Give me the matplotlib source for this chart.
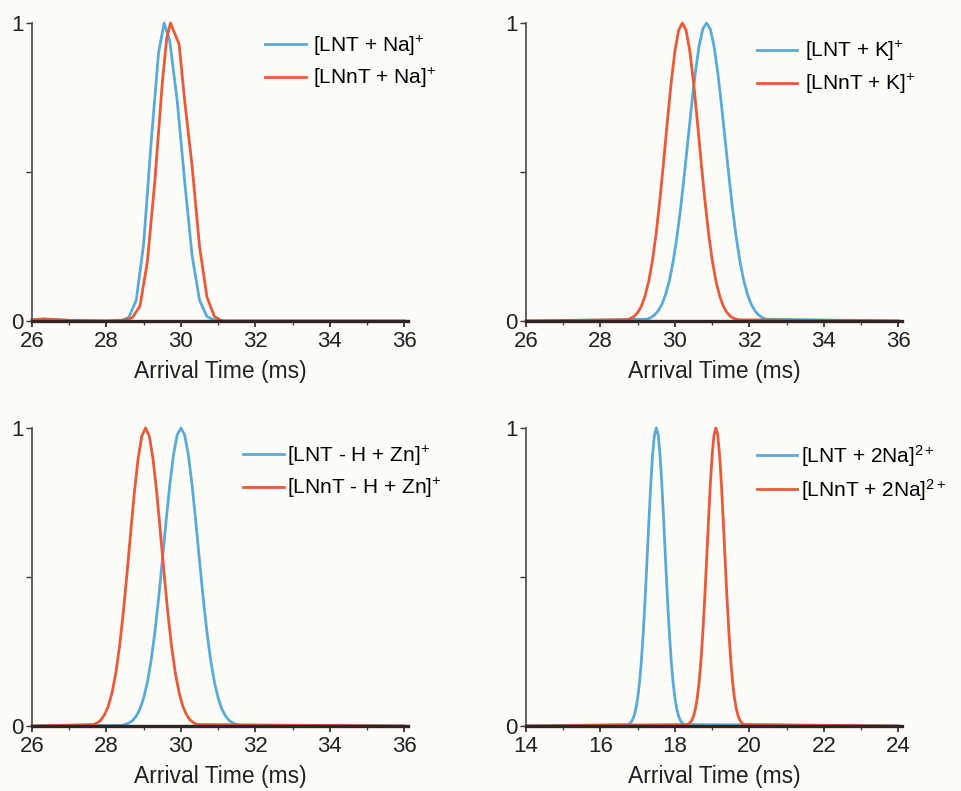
import matplotlib
matplotlib.use("Agg")
import matplotlib.pyplot as plt
from matplotlib.ticker import MultipleLocator

plt.rcParams["font.family"] = ["Liberation Sans", "DejaVu Sans"]
plt.rcParams["mathtext.fontset"] = "custom"
plt.rcParams["mathtext.rm"] = "Liberation Sans"
plt.rcParams["mathtext.it"] = "Liberation Sans"

# --- data (arrival time in ms, normalised intensity) ---
# panel A: Na+ adducts
na_time_lnt = [26.0, 26.3, 26.6, 27.0, 27.5, 28.0, 28.4, 28.6, 28.8, 29.0, 29.2,
               29.4, 29.55, 29.7, 29.9, 30.1, 30.3, 30.5, 30.7, 30.9, 31.2, 36.0]
na_int_lnt = [0.004, 0.006, 0.005, 0.002, 0.001, 0.0, 0.002, 0.012, 0.07, 0.26, 0.6,
              0.9, 1.0, 0.94, 0.74, 0.47, 0.22, 0.07, 0.015, 0.003, 0.0, 0.0]
na_time_lnnt = [26.0, 26.3, 26.6, 27.0, 27.5, 28.0, 28.5, 28.7, 28.9, 29.1, 29.3, 29.5,
                29.62, 29.72, 29.85, 29.95, 30.1, 30.3, 30.5, 30.7, 30.9, 31.1, 36.0]
na_int_lnnt = [0.004, 0.007, 0.005, 0.002, 0.001, 0.0, 0.003, 0.012, 0.05, 0.2, 0.47, 0.8,
               0.95, 1.0, 0.96, 0.93, 0.74, 0.52, 0.25, 0.08, 0.015, 0.0, 0.0]

# panel B: K+ adducts
k_time_lnt = [26.0, 29.25, 29.35, 29.45, 29.55, 29.65, 29.75, 29.85, 29.95, 30.05, 30.15,
              30.25, 30.35, 30.45, 30.55, 30.65, 30.75, 30.85, 30.95, 31.05, 31.15,
              31.25, 31.35, 31.45, 31.55, 31.65, 31.75, 31.85, 31.95, 32.05, 32.15,
              32.25, 32.35, 32.45, 36.0]
k_int_lnt = [0.0, 0.006, 0.011, 0.020, 0.034, 0.056, 0.089, 0.135, 0.198, 0.278, 0.375,
             0.487, 0.607, 0.726, 0.835, 0.923, 0.980, 1.0, 0.980, 0.923, 0.835,
             0.726, 0.607, 0.487, 0.375, 0.278, 0.198, 0.135, 0.089, 0.056, 0.034,
             0.020, 0.011, 0.006, 0.0]
k_time_lnnt = [26.0, 28.7, 28.8, 28.9, 29.0, 29.1, 29.2, 29.3, 29.4, 29.5, 29.6, 29.7,
               29.8, 29.9, 30.0, 30.1, 30.2, 30.3, 30.4, 30.5, 30.6, 30.7, 30.8,
               30.9, 31.0, 31.1, 31.2, 31.3, 31.4, 31.5, 31.6, 31.7, 36.0]
k_int_lnnt = [0.0, 0.004, 0.008, 0.015, 0.028, 0.050, 0.085, 0.135, 0.206, 0.298, 0.411,
              0.539, 0.674, 0.801, 0.906, 0.976, 1.0, 0.976, 0.906, 0.801, 0.674,
              0.539, 0.411, 0.298, 0.206, 0.135, 0.085, 0.050, 0.028, 0.015, 0.008,
              0.004, 0.0]

# panel C: Zn adducts
zn_time_lnt = [26.0, 28.4, 28.5, 28.6, 28.7, 28.8, 28.9, 29.0, 29.1, 29.2, 29.3, 29.4,
               29.5, 29.6, 29.7, 29.8, 29.9, 30.0, 30.1, 30.2, 30.3, 30.4, 30.5,
               30.6, 30.7, 30.8, 30.9, 31.0, 31.1, 31.2, 31.3, 31.4, 31.5, 31.6, 36.0]
zn_int_lnt = [0.0, 0.002, 0.005, 0.010, 0.018, 0.033, 0.057, 0.094, 0.147, 0.220, 0.314,
              0.427, 0.554, 0.685, 0.808, 0.910, 0.977, 1.0, 0.977, 0.910, 0.808,
              0.685, 0.554, 0.427, 0.314, 0.220, 0.147, 0.094, 0.057, 0.033, 0.018,
              0.010, 0.005, 0.002, 0.0]
zn_time_lnnt = [26.0, 27.65, 27.75, 27.85, 27.95, 28.05, 28.15, 28.25, 28.35, 28.45,
                28.55, 28.65, 28.75, 28.85, 28.95, 29.05, 29.15, 29.25, 29.35, 29.45,
                29.55, 29.65, 29.75, 29.85, 29.95, 30.05, 30.15, 30.25, 30.35, 30.45, 36.0]
zn_int_lnnt = [0.0, 0.005, 0.010, 0.020, 0.038, 0.067, 0.112, 0.177, 0.266, 0.378,
               0.509, 0.649, 0.784, 0.897, 0.973, 1.0, 0.973, 0.897, 0.784, 0.649,
               0.509, 0.378, 0.266, 0.177, 0.112, 0.067, 0.038, 0.020, 0.010, 0.005, 0.0]

# panel D: doubly charged Na adducts
na2_time_lnt = [14.0, 16.75, 16.8, 16.85, 16.9, 16.95, 17.0, 17.05, 17.1, 17.15, 17.2,
                17.25, 17.3, 17.35, 17.4, 17.45, 17.5, 17.55, 17.6, 17.65, 17.7, 17.75,
                17.8, 17.85, 17.9, 17.95, 18.0, 18.05, 18.1, 18.15, 18.2, 18.25, 24.0]
na2_time_lnnt = [14.0, 18.35, 18.4, 18.45, 18.5, 18.55, 18.6, 18.65, 18.7, 18.75, 18.8,
                 18.85, 18.9, 18.95, 19.0, 19.05, 19.1, 19.15, 19.2, 19.25, 19.3, 19.35,
                 19.4, 19.45, 19.5, 19.55, 19.6, 19.65, 19.7, 19.75, 19.8, 19.85, 24.0]
na2_int_lnt = [0.0, 0.005, 0.010, 0.018, 0.033, 0.057, 0.094, 0.147, 0.220, 0.314, 0.427,
               0.554, 0.685, 0.808, 0.910, 0.977, 1.0, 0.977, 0.910, 0.808, 0.685,
               0.554, 0.427, 0.314, 0.220, 0.147, 0.094, 0.057, 0.033, 0.018, 0.010,
               0.005, 0.0]
na2_int_lnnt = [0.0, 0.005, 0.010, 0.018, 0.033, 0.057, 0.094, 0.147, 0.220, 0.314, 0.427,
                0.554, 0.685, 0.808, 0.910, 0.977, 1.0, 0.977, 0.910, 0.808, 0.685,
                0.554, 0.427, 0.314, 0.220, 0.147, 0.094, 0.057, 0.033, 0.018, 0.010,
                0.005, 0.0]

labels = [
    (r"[LNT + Na]$^{+}$", r"[LNnT + Na]$^{+}$"),
    (r"[LNT + K]$^{+}$", r"[LNnT + K]$^{+}$"),
    (r"[LNT - H + Zn]$^{+}$", r"[LNnT - H + Zn]$^{+}$"),
    (r"[LNT + 2Na]$^{2+}$", r"[LNnT + 2Na]$^{2+}$"),
]
x_ranges = [(26, 36), (26, 36), (26, 36), (14, 24)]

BLUE = "#5aaad9"
RED = "#ea5a38"
BG = "#fdfcf9"

W, H = 961, 791
fig = plt.figure(figsize=(W / 100, H / 100), dpi=100, facecolor=BG)

# axes rectangles in pixels: left, bottom, width, height
rects = [(32, 470, 376, 298), (526, 470, 376, 298), (32, 65, 376, 298), (526, 65, 376, 298)]
legend_anchor = [(0.62, 0.965), (0.614, 0.945), (0.561, 0.948), (0.614, 0.951)]
text_pad = [0.35, 0.35, 0.18, 0.18]
label_pad = [6, 6, 6, 6]

series = [
    (na_time_lnt, na_int_lnt, na_time_lnnt, na_int_lnnt),
    (k_time_lnt, k_int_lnt, k_time_lnnt, k_int_lnnt),
    (zn_time_lnt, zn_int_lnt, zn_time_lnnt, zn_int_lnnt),
    (na2_time_lnt, na2_int_lnt, na2_time_lnnt, na2_int_lnnt),
]

for k, (t1, y1, t2, y2) in enumerate(series):
    l, b, w, h = rects[k]
    ax = fig.add_axes([l / W, b / H, w / W, h / H])
    ax.set_facecolor("none")
    ax.plot(t1, y1, color=BLUE, lw=2.0, label=labels[k][0], clip_on=False)
    ax.plot(t2, y2, color=RED, lw=2.0, label=labels[k][1], clip_on=False)

    x0, x1 = x_ranges[k]
    ax.set_xlim(x0, x1 + 0.1)
    ax.set_ylim(0, 1)
    ax.set_xticks(range(x0, x1 + 1, 2))
    ax.xaxis.set_minor_locator(MultipleLocator(1))
    ax.set_yticks([0, 0.5, 1])
    ax.set_yticklabels(["0", "", "1"])

    for s in ("top", "right"):
        ax.spines[s].set_visible(False)
    ax.spines["bottom"].set_linewidth(2.4)
    ax.spines["bottom"].set_color("#2e2622")
    ax.spines["left"].set_linewidth(1.3)
    ax.spines["left"].set_color("#555555")

    ax.tick_params(axis="x", which="major", length=4, width=1.2, pad=3,
                   labelsize=16, colors="#222222")
    ax.tick_params(axis="x", which="minor", length=3, width=1.0, colors="#444444")
    ax.tick_params(axis="y", length=4, width=1.0, pad=2, labelsize=16,
                   colors="#333333", labelcolor="#222222")
    ax.set_xlabel("Arrival Time (ms)", fontsize=16.5, labelpad=label_pad[k],
                  color="#222222")

    ax.legend(loc="upper left", bbox_to_anchor=legend_anchor[k], frameon=False,
              fontsize=15, handlelength=1.95, handletextpad=text_pad[k],
              labelspacing=0.4, borderaxespad=0, borderpad=0)

fig.savefig("out.png", dpi=100, facecolor=BG)
